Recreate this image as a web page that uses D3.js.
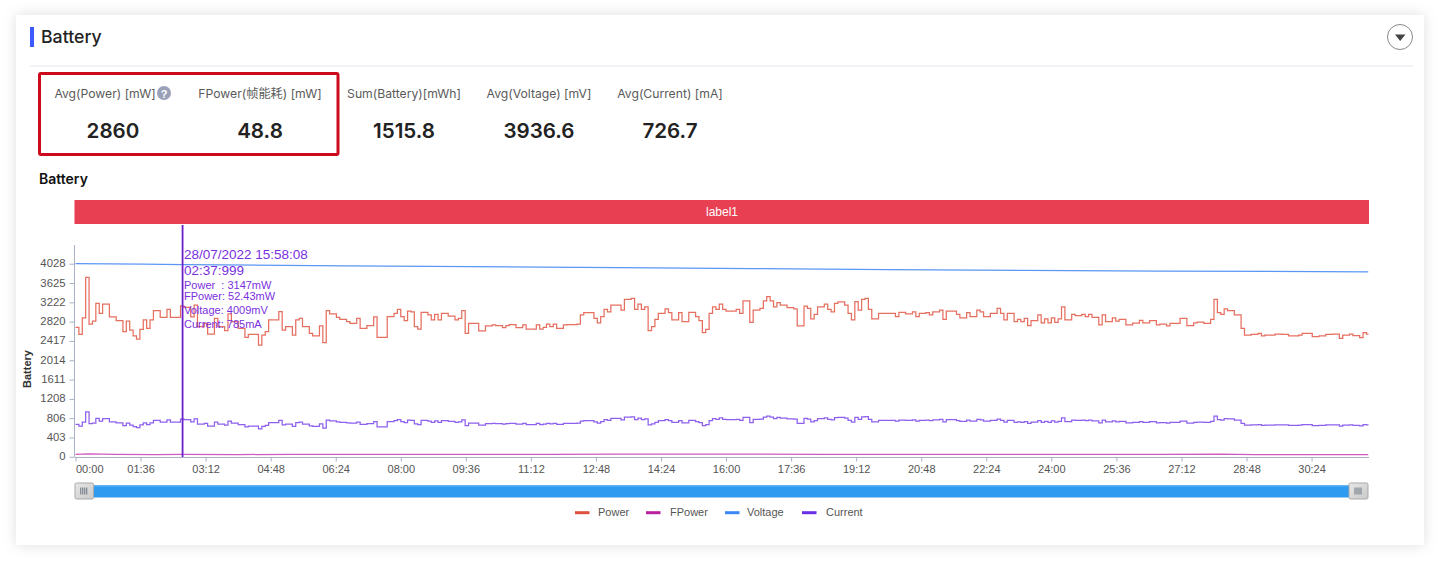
<!DOCTYPE html>
<html><head><meta charset="utf-8">
<script src="https://cdn.jsdelivr.net/npm/d3@7/dist/d3.min.js"></script>
<style>
html,body{margin:0;padding:0;background:#fff;overflow:hidden}
svg{display:block}
.ui{font-family:"Inter","Noto Sans CJK SC","Noto Sans",sans-serif}
.ax{font-family:"Liberation Sans",Arial,sans-serif}
</style></head><body>
<svg id="c" width="1440" height="561"></svg>
<script>
const sampleSeconds = 5;
const powerValues = [
2700,2555,2900,3745,2770,2830,3200,2990,3185,3185,2920,2920,2840,2840,2610,2830,2645,2520,2455,2660,
2855,2680,2855,3050,3050,2910,2910,3075,2910,2910,2910,3147,3117,3117,2920,3165,2715,2715,2785,2560,
2560,2890,2715,2715,2630,2980,2820,2820,2680,2680,2490,2555,2555,2555,2330,2540,2610,2855,2855,2855,
3030,2645,2715,2715,2540,2855,2890,2715,2715,2575,2525,2525,2730,2380,3050,2980,2980,2910,2865,2865,
2820,2785,2785,2890,2680,2680,2735,2735,2920,2490,2490,2490,
2925,2925,2990,3075,2925,2840,3040,3025,2715,2665,3015,3015,2960,2855,2970,2855,2990,2990,2935,2935,
2855,2890,3050,2575,2785,2785,2785,2625,2625,2730,2730,2750,2735,2735,2695,2735,2755,2755,2695,2695,
2750,2665,2665,2665,2750,2665,2700,2765,2715,2765,2680,2680,2750,2755,2755,2755,2770,2960,3005,3005,
3005,2890,2795,2925,3075,3025,3165,3165,3165,3060,3285,3285,3305,3075,3185,3075,3130,2630,2715,2865,
2990,2990,3085,3005,2855,2855,3005,2820,2820,3015,3015,2925,2840,2590,2660,2990,
3130,3075,3185,3075,3040,3040,3040,3075,2990,3250,3250,2805,3060,3060,3095,3255,3340,3255,3130,3215,
3165,3165,3110,3110,3085,2730,2730,3145,3095,2875,2970,3130,3130,3185,3075,3025,3200,3230,3230,3165,
2990,2855,3235,3060,3285,3305,3075,2875,2875,2990,2990,2990,2990,2990,2925,3015,3015,2980,2980,3025,
2925,2990,2990,3005,2960,3025,3025,3060,2865,3040,3040,3040,2970,2900,2900,3005,2925,2925,3060,3025,
2925,2925,2990,2990,3095,2990,2855,2990,2990,2820,2865,2820,2890,2735,2840,2840,2960,
2795,2875,2795,2900,2805,2875,3130,2855,2855,2970,2945,2945,2970,2925,2970,2910,2910,2750,2960,2820,
2820,2900,2830,2865,2865,2750,2750,2790,2790,2845,2795,2795,2840,2840,2750,2765,2765,2730,2785,2785,
2785,2890,2890,2735,2735,2795,2810,2810,2785,2785,2865,3285,3005,2970,3085,3050,3050,2960,2960,2680,
2540,2540,2555,2555,2575,2520,2540,2540,2540,2560,2560,2555,2555,2520,2520,2520,2540,2575,2575,2575,
2505,2505,2520,2520,2555,2555,2560,2560,2470,2540,2540,2560,2530,2530,2485,2590,2560,2590];
const currentValues = [
675,640,725,935,690,705,800,745,795,795,730,730,710,710,650,705,660,630,610,665,
710,670,710,760,760,725,725,770,725,725,725,785,775,775,730,790,680,680,695,640,
640,725,680,680,660,745,705,705,670,670,625,640,640,640,585,635,655,715,715,715,
760,665,680,680,635,715,725,680,680,645,635,635,685,600,765,750,750,730,720,720,
710,700,700,725,675,675,690,690,735,625,625,625,
735,735,755,775,735,715,765,760,685,670,760,760,745,720,750,720,755,755,740,740,
720,730,770,650,700,700,700,660,660,690,690,695,690,690,680,690,695,695,680,680,
695,670,670,670,695,670,680,695,685,695,675,675,695,695,695,695,700,745,755,755,
755,730,705,735,775,760,800,800,800,770,830,830,835,775,805,775,790,665,685,720,
755,755,775,755,720,720,755,710,710,760,760,735,715,650,670,755,
795,780,810,780,775,775,775,780,760,825,825,715,780,780,785,830,850,830,795,820,
805,805,790,790,785,695,695,800,785,730,755,795,795,810,780,770,815,820,820,805,
760,725,825,780,835,840,780,730,730,760,760,760,760,760,745,765,765,760,760,770,
745,760,760,765,755,770,770,780,730,775,775,775,755,740,740,765,745,745,780,770,
745,745,760,760,785,760,725,760,760,720,730,720,735,695,725,725,755,
720,740,720,750,725,740,810,735,735,765,760,760,765,755,765,750,750,710,765,730,
730,750,730,740,740,710,710,720,720,735,720,720,735,735,710,715,715,705,720,720,
720,745,745,705,705,720,725,725,720,720,740,850,775,765,795,790,790,765,765,695,
660,660,665,665,670,655,660,660,660,665,665,665,665,655,655,655,660,670,670,670,
650,650,655,655,665,665,665,665,640,660,660,665,655,655,645,670,665,670];
const voltageTimes = [0,100,158,400,800,1000,1200,1400,1600,1908];
const voltageValues = [4030,4018,4009,3985,3945,3925,3905,3890,3875,3860];
const fpowerTimes = [0,20,60,120,158,240,320,400,500,600,700,800,900,1000,1100,1200,1300,1400,1500,1600,1690,1740,1800,1908];
const fpowerValues = [48,62,50,47,52,46,52,50,48,50,53,55,56,54,52,53,51,50,50,49,56,44,44,45];
const yTicks = [0,403,806,1208,1611,2014,2417,2820,3222,3625,4028];
const xTickSeconds = d3.range(0,1900,96);
const legendNames = ["Power","FPower","Voltage","Current"];
const legendColors = ["#e0503c","#b9209f","#3b87f7","#6a2ee6"];
const lineColors = ["#e66f60","#cf5bbd","#5b97f5","#8d60ee"];
const kpiNames = ["Avg(Power) [mW]","FPower(帧能耗) [mW]","Sum(Battery)[mWh]","Avg(Voltage) [mV]","Avg(Current) [mA]"];
const kpiValues = ["2860","48.8","1515.8","3936.6","726.7"];
const kpiLabelX = [105,260,404,539,670];
const kpiValueX = [113,260,404,539,670];
const tipLines = ["Power  : 3147mW","FPower: 52.43mW","Voltage: 4009mV","Current: 785mA"];
const tipY = [285,296,310,324];

const svg = d3.select("#c");
const defs = svg.append("defs");
const f = defs.append("filter").attr("id","sh").attr("x","-3%").attr("y","-5%").attr("width","106%").attr("height","110%");
f.append("feDropShadow").attr("dx",0).attr("dy",0).attr("stdDeviation",7).attr("flood-color","#000").attr("flood-opacity",.13);
const soft = defs.append("filter").attr("id","soft").attr("filterUnits","userSpaceOnUse").attr("x",60).attr("y",230).attr("width",1320).attr("height",240);
soft.append("feGaussianBlur").attr("stdDeviation",.35);
defs.append("clipPath").attr("id","plot").append("rect").attr("x",75).attr("y",225).attr("width",1293.5).attr("height",232);
const bg = defs.append("linearGradient").attr("id","sl").attr("x1",0).attr("x2",0).attr("y1",0).attr("y2",1);
bg.append("stop").attr("offset",0).attr("stop-color","#6db9f5");
bg.append("stop").attr("offset",.2).attr("stop-color","#2f9bf0");
bg.append("stop").attr("offset",1).attr("stop-color","#2f9bf0");
const hg = defs.append("linearGradient").attr("id","hd").attr("x1",0).attr("x2",1).attr("y1",0).attr("y2",1);
hg.append("stop").attr("offset",0).attr("stop-color","#e8e8e8");
hg.append("stop").attr("offset",1).attr("stop-color","#c9c9c9");

svg.append("rect").attr("x",16).attr("y",15).attr("width",1408).attr("height",530).attr("fill","#fff").attr("filter","url(#sh)");
svg.append("rect").attr("x",30).attr("y",27).attr("width",4).attr("height",20).attr("fill","#3d5afe");
svg.append("text").attr("class","ui").attr("x",41).attr("y",43).attr("font-size",17.7).attr("font-weight",500).attr("fill","#222").text("Battery");
svg.append("circle").attr("cx",1400).attr("cy",37).attr("r",12.5).attr("fill","#fff").attr("stroke","#8a8a8a");
svg.append("path").attr("d",d3.line()([[1395,34.5],[1405.5,34.5],[1400.2,41]])+"Z").attr("fill","#444");
svg.append("line").attr("x1",30).attr("x2",1413).attr("y1",66).attr("y2",66).attr("stroke","#e6e8ef");
svg.append("rect").attr("x",39.5).attr("y",73.5).attr("width",298.5).attr("height",81).attr("rx",1.5).attr("fill","none").attr("stroke","#cc0a1c").attr("stroke-width",3);

svg.selectAll(".kl").data(kpiNames).join("text").attr("class","ui").attr("x",(d,i)=>kpiLabelX[i]).attr("y",98)
  .attr("text-anchor","middle").attr("font-size",12.2).attr("fill","#5a5a5a").text(d=>d);
svg.selectAll(".kv").data(kpiValues).join("text").attr("class","ui").attr("x",(d,i)=>kpiValueX[i]).attr("y",138)
  .attr("text-anchor","middle").attr("font-size",20.6).attr("font-weight",600).attr("fill","#222").text(d=>d);
svg.append("circle").attr("cx",164).attr("cy",93).attr("r",7).attr("fill","#9aa0b8");
svg.append("text").attr("class","ax").attr("x",164).attr("y",97.5).attr("text-anchor","middle").attr("font-size",11).attr("font-weight",700).attr("fill","#fff").text("?");
svg.append("text").attr("class","ui").attr("x",39).attr("y",184).attr("font-size",14).attr("font-weight",600).attr("fill","#111").text("Battery");

svg.append("rect").attr("x",74.5).attr("y",200).attr("width",1294.5).attr("height",24).attr("fill","#e83f53");
svg.append("text").attr("class","ax").attr("x",722).attr("y",216).attr("text-anchor","middle").attr("font-size",12).attr("fill","#fff").text("label1");

const x = d3.scaleLinear().domain([0,1908]).range([75.5,1368.5]);
const y = d3.scaleLinear().domain([0,4028]).range([456.8,263.7]);

const yAxis = d3.axisLeft(y).tickValues(yTicks).tickFormat(d=>d).tickSize(5).tickPadding(4);
const yg = svg.append("g").attr("class","ax").attr("transform","translate(74.5,0)").call(yAxis);
yg.select(".domain").remove();
yg.append("line").attr("x1",0).attr("x2",0).attr("y1",245).attr("y2",457).attr("stroke","#a8b1c6");
yg.selectAll(".tick line").attr("stroke","#a8b1c6");
yg.selectAll(".tick text").attr("font-size",11.3).attr("fill","#555").attr("transform","translate(0,-0.6)");

const mmss = s=>String(Math.floor(s/60)).padStart(2,"0")+":"+String(s%60).padStart(2,"0");
const xAxis = d3.axisBottom(x).tickValues(xTickSeconds).tickFormat(mmss).tickSize(4).tickPadding(4);
const xg = svg.append("g").attr("class","ax").attr("transform","translate(0,457.5)").call(xAxis);
xg.select(".domain").remove();
xg.append("line").attr("x1",75).attr("x2",1369).attr("stroke","#a8b1c6");
xg.selectAll(".tick line").attr("stroke","#a8b1c6");
xg.selectAll(".tick text").attr("font-size",11).attr("fill","#555").attr("text-anchor",(d,i)=>i?"middle":"start");

svg.append("text").attr("class","ax").attr("transform","translate(31,369) rotate(-90)").attr("text-anchor","middle").attr("font-size",11).attr("font-weight",700).attr("fill","#333").text("Battery");

const stepped = d3.line().x(d=>x(d[0])).y(d=>y(d[1])).curve(d3.curveStepAfter);
const plain = d3.line().x(d=>x(d[0])).y(d=>y(d[1]));
const bySample = v=>v.map((d,i)=>[i*sampleSeconds,d]);
const pairs = (t,v)=>t.map((d,i)=>[d,v[i]]);
const seriesPaths = [stepped(bySample(powerValues)),plain(pairs(fpowerTimes,fpowerValues)),plain(pairs(voltageTimes,voltageValues)),stepped(bySample(currentValues))];
svg.append("g").attr("clip-path","url(#plot)").append("g").attr("filter","url(#soft)")
  .selectAll("path").data(seriesPaths).join("path").attr("d",d=>d).attr("fill","none")
  .attr("stroke",(d,i)=>lineColors[i]).attr("stroke-width",1.25);

const cursorT = 158;
svg.append("line").attr("x1",x(cursorT)).attr("x2",x(cursorT)).attr("y1",225).attr("y2",457).attr("stroke","#6a1fc9").attr("stroke-width",1.8);
const tipColor = "#7b30e0";
svg.append("text").attr("class","ax").attr("x",184).attr("y",259).attr("font-size",13.5).attr("fill",tipColor).text("28/07/2022 15:58:08");
svg.append("text").attr("class","ax").attr("x",184).attr("y",275).attr("font-size",13.5).attr("fill",tipColor).text("02:37:999");
svg.selectAll(".tl").data(tipLines).join("text").attr("class","ax").attr("x",184).attr("y",(d,i)=>tipY[i]+4)
  .attr("font-size",11).attr("fill",tipColor).style("white-space","pre").text(d=>d);

svg.append("rect").attr("x",90).attr("y",485).attr("width",1262).attr("height",12.5).attr("fill","url(#sl)");
[[75,18.5],[1349,19]].forEach(([hx,hw])=>{
  svg.append("rect").attr("x",hx).attr("y",483).attr("width",hw).attr("height",16).attr("rx",1.5).attr("fill","url(#hd)").attr("stroke","#a9a9a9");
  const m = hx+hw/2;
  [-3,-1,1,3].forEach(o=>svg.append("line").attr("x1",m+o-.5).attr("x2",m+o-.5).attr("y1",487.5).attr("y2",494.5).attr("stroke","#6b7480").attr("stroke-width",1));
});

const legendLineX = [575,646,725,802];
const legendTextX = [598,670,747,826];
legendNames.forEach((n,i)=>{
  svg.append("line").attr("x1",legendLineX[i]).attr("x2",legendLineX[i]+14.5).attr("y1",512.7).attr("y2",512.7).attr("stroke",legendColors[i]).attr("stroke-width",3);
  svg.append("text").attr("class","ax").attr("x",legendTextX[i]).attr("y",516).attr("font-size",11).attr("fill","#555").text(n);
});
</script></body></html>
